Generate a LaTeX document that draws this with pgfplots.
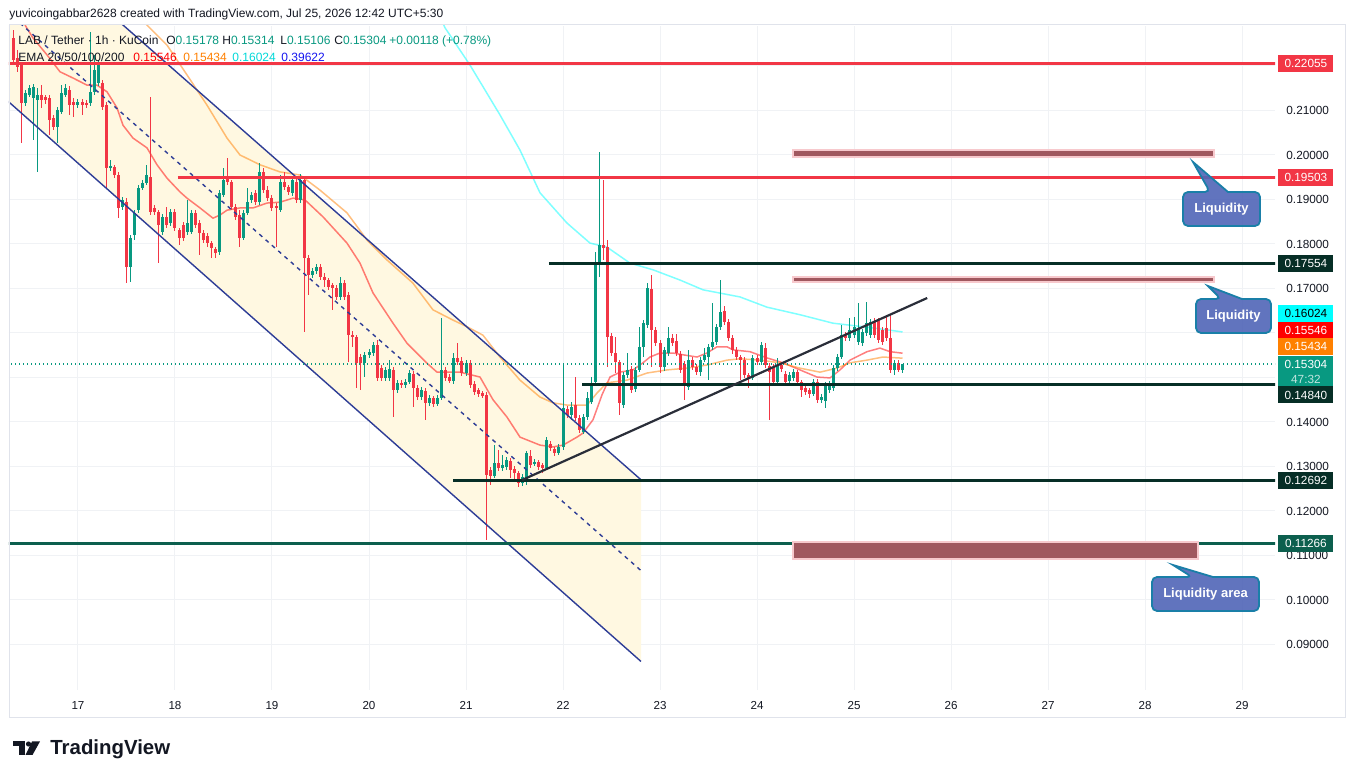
\documentclass[border=0pt]{standalone}
\usepackage{pgfplots}
\pgfplotsset{compat=1.18}
\usepackage{pgfplotstable}
\usepackage{fontspec}
\setmainfont{Liberation Sans}

\definecolor{upc}{HTML}{089981}
\definecolor{dnc}{HTML}{F23645}
\definecolor{emaR}{HTML}{FF0000}
\definecolor{emaO}{HTML}{FF8000}
\definecolor{emaC}{HTML}{00FFFF}
\definecolor{emaB}{HTML}{1515F0}
\definecolor{chan}{HTML}{2E3D96}
\definecolor{chanfill}{HTML}{FFF8E1}
\definecolor{darkln}{HTML}{062E26}
\definecolor{tealln}{HTML}{0C5F4E}
\definecolor{trend}{HTML}{2A2E39}
\definecolor{liqfill}{HTML}{A0585F}
\definecolor{liqedge}{HTML}{F7C9CD}
\definecolor{callfill}{HTML}{5065B8}
\definecolor{calledge}{HTML}{1A7FA8}
\definecolor{gridc}{HTML}{F0F2F5}
\definecolor{framec}{HTML}{E0E3EB}
\definecolor{txt}{HTML}{131722}

% hourly candles: hour index from Jul 16 00:00, open, high, low, close
\pgfplotstableread{
h o hi lo c
8 0.2263 0.2281 0.2209 0.2214
9 0.2218 0.2236 0.2186 0.2198
10 0.2202 0.2209 0.2027 0.2117
11 0.2117 0.2146 0.2110 0.2139
12 0.2135 0.2157 0.2130 0.2151
13 0.2128 0.2160 0.2034 0.2153
14 0.2124 0.2151 0.1962 0.2135
15 0.2135 0.2157 0.2106 0.2124
16 0.2130 0.2135 0.2115 0.2124
17 0.2128 0.2135 0.2045 0.2079
18 0.2083 0.2090 0.2056 0.2063
19 0.2063 0.2108 0.2027 0.2101
20 0.2097 0.2157 0.2092 0.2139
21 0.2135 0.2160 0.2130 0.2151
22 0.2146 0.2155 0.2090 0.2112
23 0.2119 0.2128 0.2085 0.2112
24 0.2112 0.2126 0.2106 0.2119
25 0.2119 0.2126 0.2090 0.2112
26 0.2117 0.2124 0.2106 0.2112
27 0.2117 0.2276 0.2110 0.2142
28 0.2142 0.2225 0.2135 0.2191
29 0.2162 0.2214 0.2155 0.2202
30 0.2162 0.2169 0.2101 0.2108
31 0.2112 0.2119 0.1926 0.1971
32 0.1971 0.1989 0.1964 0.1975
33 0.1973 0.1978 0.1948 0.1955
34 0.1955 0.1962 0.1858 0.1881
35 0.1883 0.1906 0.1876 0.1899
36 0.1894 0.1903 0.1712 0.1748
37 0.1748 0.1820 0.1715 0.1813
38 0.1820 0.1876 0.1809 0.1870
39 0.1876 0.1933 0.1870 0.1926
40 0.1926 0.1944 0.1921 0.1937
41 0.1937 0.1978 0.1933 0.1955
42 0.1951 0.2130 0.1865 0.1872
43 0.1881 0.1888 0.1865 0.1872
44 0.1872 0.1876 0.1757 0.1843
45 0.1827 0.1867 0.1820 0.1861
46 0.1861 0.1883 0.1836 0.1843
47 0.1847 0.1879 0.1840 0.1872
48 0.1872 0.1879 0.1829 0.1836
49 0.1831 0.1836 0.1798 0.1813
50 0.1843 0.1850 0.1807 0.1813
51 0.1827 0.1899 0.1820 0.1847
52 0.1827 0.1876 0.1823 0.1870
53 0.1870 0.1876 0.1836 0.1843
54 0.1847 0.1854 0.1775 0.1825
55 0.1825 0.1831 0.1802 0.1809
56 0.1818 0.1825 0.1793 0.1802
57 0.1802 0.1807 0.1769 0.1791
58 0.1789 0.1793 0.1769 0.1780
59 0.1782 0.1921 0.1775 0.1915
60 0.1910 0.1971 0.1906 0.1944
61 0.1948 0.1993 0.1933 0.1939
62 0.1939 0.1944 0.1876 0.1883
63 0.1883 0.1890 0.1854 0.1861
64 0.1865 0.1876 0.1793 0.1813
65 0.1813 0.1876 0.1809 0.1870
66 0.1870 0.1926 0.1865 0.1894
67 0.1899 0.1917 0.1892 0.1910
68 0.1915 0.1921 0.1888 0.1894
69 0.1894 0.1982 0.1888 0.1962
70 0.1962 0.1971 0.1915 0.1921
71 0.1921 0.1930 0.1897 0.1903
72 0.1903 0.1910 0.1874 0.1881
73 0.1885 0.1892 0.1793 0.1881
74 0.1876 0.1955 0.1872 0.1939
75 0.1939 0.1962 0.1921 0.1928
76 0.1928 0.1933 0.1910 0.1917
77 0.1915 0.1953 0.1908 0.1944
78 0.1939 0.1948 0.1892 0.1899
79 0.1899 0.1957 0.1892 0.1944
80 0.1944 0.1953 0.1602 0.1769
81 0.1769 0.1775 0.1685 0.1730
82 0.1730 0.1746 0.1724 0.1739
83 0.1739 0.1755 0.1733 0.1748
84 0.1748 0.1755 0.1719 0.1726
85 0.1726 0.1735 0.1703 0.1719
86 0.1719 0.1724 0.1697 0.1703
87 0.1708 0.1712 0.1652 0.1701
88 0.1701 0.1708 0.1674 0.1681
89 0.1681 0.1726 0.1674 0.1712
90 0.1712 0.1719 0.1674 0.1681
91 0.1685 0.1692 0.1535 0.1596
92 0.1596 0.1604 0.1569 0.1591
93 0.1591 0.1596 0.1477 0.1533
94 0.1546 0.1553 0.1472 0.1533
95 0.1533 0.1557 0.1501 0.1551
96 0.1551 0.1564 0.1544 0.1557
97 0.1555 0.1580 0.1548 0.1573
98 0.1573 0.1584 0.1492 0.1499
99 0.1521 0.1528 0.1492 0.1499
100 0.1499 0.1524 0.1492 0.1517
101 0.1499 0.1539 0.1492 0.1519
102 0.1517 0.1524 0.1411 0.1472
103 0.1472 0.1494 0.1465 0.1488
104 0.1488 0.1494 0.1477 0.1483
105 0.1483 0.1497 0.1477 0.1490
106 0.1490 0.1517 0.1485 0.1510
107 0.1508 0.1515 0.1434 0.1477
108 0.1477 0.1483 0.1449 0.1456
109 0.1456 0.1479 0.1449 0.1472
110 0.1470 0.1477 0.1405 0.1443
111 0.1443 0.1461 0.1436 0.1454
112 0.1454 0.1459 0.1434 0.1441
113 0.1441 0.1461 0.1436 0.1454
114 0.1454 0.1634 0.1449 0.1517
115 0.1517 0.1524 0.1492 0.1499
116 0.1501 0.1508 0.1488 0.1492
117 0.1492 0.1555 0.1485 0.1544
118 0.1544 0.1578 0.1528 0.1535
119 0.1537 0.1546 0.1503 0.1510
120 0.1510 0.1539 0.1503 0.1533
121 0.1533 0.1539 0.1477 0.1483
122 0.1485 0.1492 0.1461 0.1467
123 0.1472 0.1477 0.1456 0.1463
124 0.1465 0.1470 0.1454 0.1459
125 0.1461 0.1467 0.1135 0.1281
126 0.1292 0.1299 0.1258 0.1279
127 0.1279 0.1348 0.1274 0.1308
128 0.1308 0.1337 0.1290 0.1297
129 0.1297 0.1326 0.1290 0.1303
130 0.1299 0.1321 0.1292 0.1315
131 0.1312 0.1319 0.1274 0.1292
132 0.1294 0.1301 0.1270 0.1285
133 0.1285 0.1290 0.1254 0.1263
134 0.1263 0.1283 0.1256 0.1276
135 0.1265 0.1335 0.1258 0.1330
136 0.1324 0.1337 0.1297 0.1303
137 0.1306 0.1317 0.1301 0.1310
138 0.1310 0.1315 0.1292 0.1299
139 0.1303 0.1308 0.1285 0.1297
140 0.1297 0.1366 0.1292 0.1360
141 0.1351 0.1357 0.1335 0.1342
142 0.1339 0.1344 0.1324 0.1330
143 0.1330 0.1351 0.1326 0.1344
144 0.1344 0.1528 0.1337 0.1431
145 0.1429 0.1436 0.1409 0.1416
146 0.1416 0.1445 0.1405 0.1434
147 0.1438 0.1501 0.1402 0.1409
148 0.1409 0.1416 0.1375 0.1382
149 0.1378 0.1418 0.1373 0.1411
150 0.1411 0.1467 0.1405 0.1454
151 0.1445 0.1501 0.1440 0.1483
152 0.1490 0.1782 0.1483 0.1757
153 0.1753 0.2007 0.1726 0.1798
154 0.1798 0.1944 0.1764 0.1791
155 0.1793 0.1809 0.1524 0.1591
156 0.1593 0.1600 0.1548 0.1555
157 0.1555 0.1591 0.1510 0.1535
158 0.1535 0.1539 0.1416 0.1443
159 0.1438 0.1512 0.1431 0.1506
160 0.1506 0.1555 0.1499 0.1517
161 0.1519 0.1526 0.1465 0.1472
162 0.1474 0.1524 0.1467 0.1517
163 0.1517 0.1613 0.1512 0.1569
164 0.1569 0.1629 0.1546 0.1622
165 0.1618 0.1712 0.1611 0.1701
166 0.1699 0.1730 0.1524 0.1607
167 0.1607 0.1613 0.1571 0.1578
168 0.1578 0.1584 0.1510 0.1524
169 0.1524 0.1569 0.1515 0.1562
170 0.1555 0.1613 0.1548 0.1589
171 0.1589 0.1598 0.1571 0.1578
172 0.1582 0.1598 0.1548 0.1555
173 0.1553 0.1560 0.1510 0.1517
174 0.1530 0.1537 0.1449 0.1483
175 0.1479 0.1562 0.1472 0.1539
176 0.1539 0.1546 0.1517 0.1524
177 0.1524 0.1530 0.1506 0.1512
178 0.1512 0.1546 0.1503 0.1539
179 0.1539 0.1566 0.1535 0.1551
180 0.1546 0.1575 0.1494 0.1569
181 0.1569 0.1667 0.1562 0.1580
182 0.1580 0.1620 0.1573 0.1613
183 0.1613 0.1719 0.1607 0.1647
184 0.1649 0.1661 0.1618 0.1625
185 0.1625 0.1632 0.1582 0.1589
186 0.1589 0.1596 0.1553 0.1562
187 0.1562 0.1569 0.1539 0.1546
188 0.1546 0.1551 0.1494 0.1539
189 0.1539 0.1546 0.1499 0.1506
190 0.1506 0.1510 0.1477 0.1499
191 0.1499 0.1551 0.1494 0.1544
192 0.1544 0.1551 0.1528 0.1535
193 0.1535 0.1580 0.1528 0.1573
194 0.1566 0.1578 0.1521 0.1528
195 0.1526 0.1533 0.1405 0.1512
196 0.1524 0.1530 0.1483 0.1490
197 0.1490 0.1544 0.1485 0.1528
198 0.1528 0.1535 0.1512 0.1519
199 0.1508 0.1515 0.1483 0.1490
200 0.1492 0.1512 0.1485 0.1506
201 0.1499 0.1519 0.1492 0.1512
202 0.1512 0.1517 0.1483 0.1490
203 0.1490 0.1494 0.1456 0.1472
204 0.1477 0.1483 0.1461 0.1467
205 0.1472 0.1477 0.1454 0.1463
206 0.1463 0.1497 0.1459 0.1490
207 0.1490 0.1497 0.1443 0.1449
208 0.1449 0.1463 0.1443 0.1456
209 0.1447 0.1490 0.1431 0.1483
210 0.1472 0.1492 0.1465 0.1488
211 0.1477 0.1528 0.1470 0.1521
212 0.1521 0.1553 0.1515 0.1546
213 0.1546 0.1618 0.1542 0.1596
214 0.1596 0.1602 0.1582 0.1589
215 0.1589 0.1634 0.1582 0.1607
216 0.1596 0.1636 0.1589 0.1613
217 0.1580 0.1667 0.1573 0.1611
218 0.1578 0.1609 0.1571 0.1602
219 0.1600 0.1670 0.1593 0.1622
220 0.1596 0.1632 0.1589 0.1625
221 0.1625 0.1634 0.1589 0.1596
222 0.1629 0.1634 0.1578 0.1584
223 0.1607 0.1613 0.1573 0.1580
224 0.1611 0.1636 0.1582 0.1589
225 0.1589 0.1641 0.1510 0.1517
226 0.1517 0.1539 0.1506 0.1533
227 0.1533 0.1539 0.1512 0.1517
228 0.15178 0.15314 0.15106 0.15304
}\candles

\tikzset{
  ptag/.style={anchor=west, xshift=1.5pt, minimum width=27.5pt, minimum height=8.5pt,
    inner sep=0pt, text=white, font=\fontsize{5.9}{6.4}\selectfont},
}
\pgfplotsset{
  candle/.style={only marks, mark=*, mark size=0pt, mark options={draw=none, fill=none},
    forget plot,
    error bars/y dir=both, error bars/y explicit, error bars/error mark=none},
}

\begin{document}
\begin{tikzpicture}
\path[use as bounding box] (0,0) rectangle (677.5pt,-389.5pt);
\fill[white] (0,0) rectangle (677.5pt,-389.5pt);

\begin{axis}[
  at={(4.5pt,-345pt)}, anchor=south west,
  scale only axis, width=633pt, height=332pt,
  xmin=6.93, xmax=320.16, ymin=0.07977, ymax=0.22899,
  clip mode=individual,
  axis line style={draw=none},
  major tick length=0pt,
  xmajorgrids, ymajorgrids,
  major grid style={gridc, line width=0.5pt},
  xtick={24,48,72,96,120,144,168,192,216,240,264,288,312},
  xticklabels={17,18,19,20,21,22,23,24,25,26,27,28,29},
  xticklabel style={anchor=north, inner sep=0pt, yshift=-5.5pt, text=txt,
    font=\fontsize{5.8}{6.4}\selectfont},
  ytick={0.09,0.10,0.11,0.12,0.13,0.14,0.17,0.18,0.19,0.20,0.21},
  extra y ticks={0.15,0.16,0.22},
  extra y tick labels={},
  extra y tick style={grid=major},
  scaled y ticks=false,
  yticklabel pos=right,
  yticklabel style={anchor=west, inner sep=0pt, xshift=5.5pt, text=txt,
    font=\fontsize{5.9}{6.4}\selectfont,
    /pgf/number format/.cd, fixed, fixed zerofill, precision=5, assume math mode=true},
]

% descending channel: shaded band
\addplot[fill=chanfill, draw=none, forget plot]
  coordinates {(6.5,0.25204) (163.3,0.12701) (163.3,0.08618) (6.5,0.21223)} -- cycle;

% exponential moving averages
\addplot[emaR, draw opacity=0.5, line width=0.75pt] coordinates {
(10.89,0.2292) (12.87,0.2263) (16.33,0.2225) (19.55,0.2187) (22.76,0.2173) (26.23,0.2157)
(28.70,0.2157) (31.18,0.2142) (33.65,0.2106) (35.13,0.2067) (37.61,0.2038) (41.07,0.2016)
(43.55,0.1978) (46.02,0.1948) (49.24,0.1917) (50.97,0.1903) (54.19,0.1881) (57.40,0.1858)
(59.13,0.1865) (60.87,0.1876) (64.08,0.1881) (67.30,0.1881) (70.76,0.1892) (73.98,0.1894)
(77.20,0.1903) (80.17,0.1899) (84.62,0.1861) (90.55,0.1802) (93.77,0.1757) (96.99,0.1690)
(101.94,0.1622) (105.40,0.1577) (110.35,0.1532) (112.82,0.1512) (118.51,0.1512) (123.46,0.1501)
(126.68,0.1450) (130.14,0.1411) (133.36,0.1366) (138.31,0.1348) (141.52,0.1344) (144.0,0.1348)
(147.46,0.1366) (148.95,0.1375) (151.42,0.1405) (153.65,0.1461) (155.63,0.1501) (158.10,0.1512)
(161.32,0.1517) (163.79,0.1533) (165.52,0.1546) (167.99,0.1555) (171.21,0.1555) (173.68,0.1551)
(177.15,0.1546) (179.62,0.1555) (182.10,0.1569) (184.57,0.1569) (186.06,0.1562) (190.26,0.1558)
(194.47,0.1544) (198.43,0.1533) (202.64,0.1517) (206.84,0.1501) (210.06,0.1499) (212.53,0.1517)
(215.01,0.1539) (219.21,0.1558) (222.43,0.1566) (224.90,0.1558) (228,0.15546)};
\addplot[emaO, draw opacity=0.5, line width=0.75pt] coordinates {
(38.1,0.2326) (41.07,0.2292) (46.02,0.2247) (50.97,0.2180) (55.92,0.2112) (60.87,0.2038)
(64.08,0.2000) (69.03,0.1978) (73.98,0.1962) (78.93,0.1955) (83.88,0.1921) (90.55,0.1870)
(95.50,0.1809) (100.45,0.1764) (106.88,0.1712) (111.83,0.1652) (116.78,0.1629) (120.25,0.1614)
(124.20,0.1595) (128.41,0.1546) (133.36,0.1494) (138.31,0.1456) (141.52,0.1443) (144.99,0.1438)
(149.94,0.1438) (152.41,0.1465) (154.88,0.1488) (159.83,0.1494) (164.78,0.1510) (169.73,0.1517)
(174.68,0.1521) (179.62,0.1528) (184.57,0.1539) (187.79,0.1542) (192.74,0.1539) (197.69,0.1533)
(202.64,0.1521) (207.59,0.1512) (211.79,0.1521) (215.01,0.1533) (219.21,0.1539) (223.17,0.1546)
(228,0.15434)};
\addplot[emaC, draw opacity=0.5, line width=0.75pt] coordinates {
(113.6,0.2311) (114.8,0.2286) (120.99,0.2202) (128.41,0.2090) (133.36,0.2011) (138.31,0.1915)
(144.99,0.1847) (150.68,0.1802) (154.88,0.1793) (160.57,0.1757) (166.26,0.1742) (172.94,0.1719)
(178.64,0.1697) (187.79,0.1681) (194.47,0.1658) (202.64,0.1641) (210.80,0.1622) (219.21,0.1613)
(228,0.16024)};

% candles: wicks then bodies, rising and falling separately
\addplot[candle, restrict expr to domain={\thisrow{c}-\thisrow{o}}{0:1},
  error bars/error bar style={upc, line width=0.5pt}]
  table[x=h, y expr={0.5*(\thisrow{hi}+\thisrow{lo})}, y error expr={0.5*(\thisrow{hi}-\thisrow{lo})}] {\candles};
\addplot[candle, restrict expr to domain={\thisrow{c}-\thisrow{o}}{0:1},
  error bars/error bar style={upc, line width=1.5pt}]
  table[x=h, y expr={0.5*(\thisrow{o}+\thisrow{c})}, y error expr={max(0.5*abs(\thisrow{c}-\thisrow{o}),0.00005)}] {\candles};
\addplot[candle, restrict expr to domain={\thisrow{c}-\thisrow{o}}{-1:0},
  error bars/error bar style={dnc, line width=0.5pt}]
  table[x=h, y expr={0.5*(\thisrow{hi}+\thisrow{lo})}, y error expr={0.5*(\thisrow{hi}-\thisrow{lo})}] {\candles};
\addplot[candle, restrict expr to domain={\thisrow{c}-\thisrow{o}}{-1:0},
  error bars/error bar style={dnc, line width=1.5pt}]
  table[x=h, y expr={0.5*(\thisrow{o}+\thisrow{c})}, y error expr={max(0.5*abs(\thisrow{c}-\thisrow{o}),0.00005)}] {\candles};

% channel rails and dashed median
\addplot[chan, line width=0.7pt] coordinates {(6.5,0.25204) (163.3,0.12701)};
\addplot[chan, line width=0.7pt] coordinates {(6.5,0.21223) (163.3,0.08618)};
\addplot[chan, line width=0.7pt, dash pattern=on 2pt off 2.2pt] coordinates {(6.5,0.23214) (163.3,0.10660)};

% current price
\addplot[upc, line width=0.6pt, dash pattern=on 0.6pt off 1.4pt] coordinates {(6.5,0.15304) (321,0.15304)};

% horizontal levels
\addplot[dnc, line width=1.4pt] coordinates {(6.5,0.22055) (321,0.22055)};
\addplot[dnc, line width=1.4pt] coordinates {(48.7,0.19503) (321,0.19503)};
\addplot[darkln, line width=1.4pt] coordinates {(140.5,0.17554) (321,0.17554)};
\addplot[darkln, line width=1.4pt] coordinates {(148.7,0.14840) (321,0.14840)};
\addplot[darkln, line width=1.4pt] coordinates {(116.8,0.12692) (321,0.12692)};
\addplot[tealln, line width=1.4pt] coordinates {(6.5,0.11266) (321,0.11266)};

% rising trendline
\addplot[trend, line width=1.1pt] coordinates {(133.9,0.12697) (234.1,0.16786)};

% liquidity zones
\addplot[fill=liqfill, draw=liqedge, line width=1pt]
  coordinates {(200.9,0.19955) (305.1,0.19955) (305.1,0.20112) (200.9,0.20112)} -- cycle;
\addplot[fill=liqfill, draw=liqedge, line width=1pt]
  coordinates {(200.9,0.17146) (305.1,0.17146) (305.1,0.17258) (200.9,0.17258)} -- cycle;
\addplot[fill=liqfill, draw=liqedge, line width=1pt]
  coordinates {(200.9,0.10921) (301.1,0.10921) (301.1,0.11303) (200.9,0.11303)} -- cycle;

% price scale tags
\node[ptag, fill=dnc] at (axis cs:320.16,0.22055) {0.22055};
\node[ptag, fill=dnc] at (axis cs:320.16,0.19503) {0.19503};
\node[ptag, fill=darkln] at (axis cs:320.16,0.17554) {0.17554};
\node[ptag, fill=emaC, text=black] at (axis cs:320.16,0.16438) {0.16024};
\node[ptag, fill=emaR] at (axis cs:320.16,0.16067) {0.15546};
\node[ptag, fill=emaO] at (axis cs:320.16,0.15697) {0.15434};
\node[ptag, fill=upc, minimum height=15.8pt, align=center, font=\fontsize{5.9}{7.3}\selectfont]
  at (axis cs:320.16,0.1513) {0.15304\\\textcolor{white!75!upc}{47:32}};
\node[ptag, fill=darkln] at (axis cs:320.16,0.14607) {0.14840};
\node[ptag, fill=darkln] at (axis cs:320.16,0.12692) {0.12692};
\node[ptag, fill=tealln] at (axis cs:320.16,0.11266) {0.11266};
\end{axis}

\begin{scope}[x=0.5pt, y=-0.5pt, font=\fontsize{6.0}{6.6}\selectfont, text=txt]
% panel frame
\draw[framec, line width=0.5pt] (9,25) rectangle (1345,718);

% header
\node[anchor=base west, inner sep=0pt] at (9,17.5)
  {yuvicoingabbar2628 created with TradingView.com, Jul 25, 2026 12:42 UTC+5:30};
\node[anchor=base west, inner sep=0pt] at (18,45) {LAB / Tether · 1h · KuCoin};
\node[anchor=base west, inner sep=0pt] at (166,45) {O\textcolor{upc}{0.15178}};
\node[anchor=base west, inner sep=0pt] at (222,45) {H\textcolor{upc}{0.15314}};
\node[anchor=base west, inner sep=0pt] at (280,45) {L\textcolor{upc}{0.15106}};
\node[anchor=base west, inner sep=0pt] at (334,45) {C\textcolor{upc}{0.15304}};
\node[anchor=base west, inner sep=0pt, text=upc] at (389,45) {+0.00118 (+0.78\%)};
\node[anchor=base west, inner sep=0pt] at (18,62) {EMA 20/50/100/200};
\node[anchor=base west, inner sep=0pt, text=emaR] at (133,62) {0.15546};
\node[anchor=base west, inner sep=0pt, text=emaO] at (183,62) {0.15434};
\node[anchor=base west, inner sep=0pt, text=emaC!85!black] at (232,62) {0.16024};
\node[anchor=base west, inner sep=0pt, text=emaB] at (281,62) {0.39622};

% callouts
\path[fill=callfill, fill opacity=0.9, draw=calledge, line width=0.9pt]
  (1183,210) [rounded corners=2.5pt] -- (1183,192) -- (1210,192) [sharp corners] -- (1193,162)
  -- (1228,192) [rounded corners=2.5pt] -- (1260,192) -- (1260,226) -- (1183,226) -- cycle;
\node[text=white, font=\fontsize{6.5}{7}\selectfont\bfseries] at (1221.5,209) {Liquidity};
\path[fill=callfill, fill opacity=0.9, draw=calledge, line width=0.9pt]
  (1196,316) [rounded corners=2.5pt] -- (1196,299) -- (1221,299) [sharp corners] -- (1208,286)
  -- (1242,299) [rounded corners=2.5pt] -- (1271,299) -- (1271,333) -- (1196,333) -- cycle;
\node[text=white, font=\fontsize{6.5}{7}\selectfont\bfseries] at (1233.5,316) {Liquidity};
\path[fill=callfill, fill opacity=0.9, draw=calledge, line width=0.9pt]
  (1152,594) [rounded corners=2.5pt] -- (1152,577) -- (1192,577) [sharp corners] -- (1173,565)
  -- (1213,577) [rounded corners=2.5pt] -- (1259,577) -- (1259,611) -- (1152,611) -- cycle;
\node[text=white, font=\fontsize{6.5}{7}\selectfont\bfseries] at (1205.5,594) {Liquidity area};

% footer logo
\fill[txt] (12.5,741.5) rectangle (25,746.5);
\fill[txt] (18.5,741.5) rectangle (25,755);
\fill[txt] (28.5,744) circle (2.6);
\fill[txt] (32,741.5) -- (40,741.5) -- (32.5,755) -- (25.5,755) -- cycle;
\node[anchor=base west, inner sep=0pt, font=\fontsize{10.2}{11}\selectfont\bfseries] at (50,755) {TradingView};
\end{scope}
\end{tikzpicture}
\end{document}
